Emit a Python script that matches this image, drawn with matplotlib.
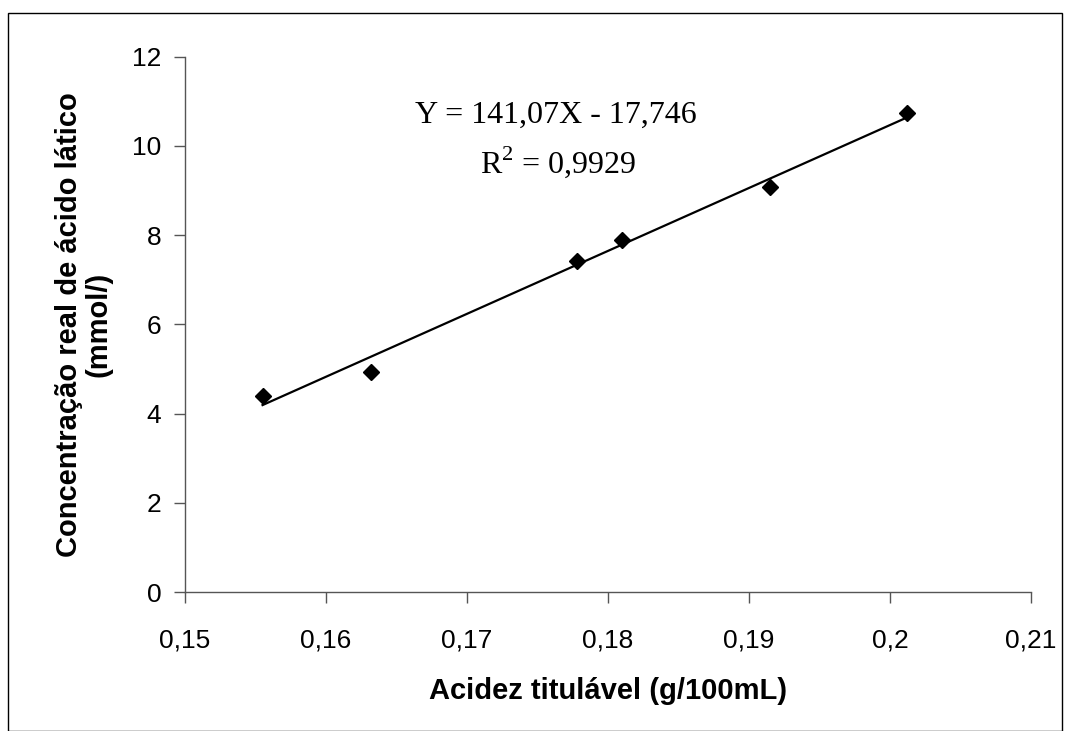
import numpy as np
import matplotlib.pyplot as plt
from matplotlib.patches import Rectangle

# dados
acidez = [0.1555, 0.1632, 0.1778, 0.1810, 0.1915, 0.2012]
concentracao = [4.40, 4.94, 7.41, 7.89, 9.07, 10.73]

# linha de tendência (equação mostrada no gráfico)
a, b = 141.07, -17.746
eq_texto = 'Y = 141,07X - 17,746'
r2_texto = 'R$^2$ = 0,9929'

xticks = [0.15, 0.16, 0.17, 0.18, 0.19, 0.20, 0.21]
xticklabels = ['0,15', '0,16', '0,17', '0,18', '0,19', '0,2', '0,21']
yticks = [0, 2, 4, 6, 8, 10, 12]

plt.rcParams['font.family'] = ['Liberation Sans', 'DejaVu Sans']
plt.rcParams['mathtext.fontset'] = 'custom'
plt.rcParams['mathtext.rm'] = 'Liberation Serif'

fig = plt.figure(figsize=(10.68, 7.31), dpi=100)
ax = fig.add_axes([185 / 1068, 1 - 592 / 731, (1031 - 185) / 1068, (592 - 56.7) / 731])

ax.plot(acidez, concentracao, 'D', color='black', ms=8, zorder=3)
xs = np.array([min(acidez), max(acidez)])
ax.plot(xs, a * xs + b, color='black', lw=1.6)

ax.set_xlim(0.15, 0.21)
ax.set_ylim(0, 12)
ax.set_xticks(xticks)
ax.set_xticklabels(xticklabels)
ax.set_yticks(yticks)
ax.tick_params(axis='x', length=8, width=1, color='#555555', labelsize=19, pad=18)
ax.tick_params(axis='y', length=8, width=1, color='#555555', labelsize=19, pad=9)

for s in ['top', 'right']:
    ax.spines[s].set_visible(False)
for s in ['left', 'bottom']:
    ax.spines[s].set_color('#555555')
    ax.spines[s].set_linewidth(1)

ax.set_xlabel('Acidez titulável (g/100mL)', fontsize=21, fontweight='bold', labelpad=18)
ax.set_ylabel('Concentração real de ácido lático\n(mmol/)', fontsize=21, fontweight='bold',
              labelpad=14, linespacing=1.05)

fig.text(556 / 1068, 1 - 115 / 731, eq_texto, family='Liberation Serif', fontsize=23,
         ha='center', va='center')
fig.text(558 / 1068, 1 - 162 / 731, r2_texto, family='Liberation Serif', fontsize=23,
         ha='center', va='center')

fig.patches.append(Rectangle((8 / 1068, 0.0), 1054 / 1068, 1 - 13 / 731,
                             transform=fig.transFigure, fill=False, edgecolor='black', lw=1))

fig.savefig('out.png', dpi=100)
